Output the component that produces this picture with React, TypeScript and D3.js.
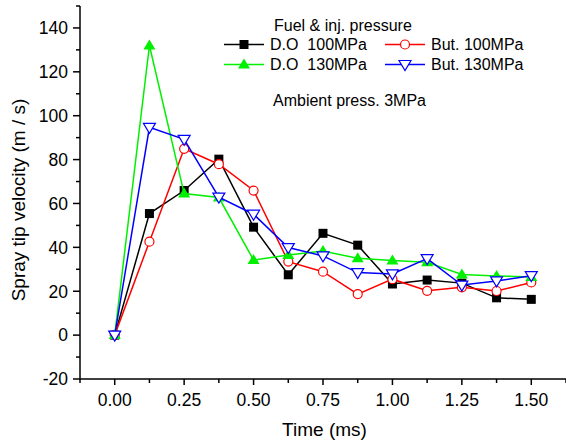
import React from "react";
import * as d3 from "d3";

const times = [0, 0.125, 0.25, 0.375, 0.5, 0.625, 0.75, 0.875, 1.0, 1.125, 1.25, 1.375, 1.5];
const do100 = [0, 55.4, 65.9, 80.2, 49.2, 27.5, 46.4, 41.0, 23.3, 25.1, 23.7, 17.0, 16.3];
const but100 = [0, 42.6, 84.9, 77.9, 65.9, 33.5, 28.9, 18.7, 25.5, 20.2, 21.8, 20.1, 24.0];
const do130 = [0, 132, 64.5, 62.7, 34.2, 36.5, 38.3, 35.0, 34.0, 33.2, 27.6, 27.0, 26.5];
const but130 = [0, 94.7, 89.2, 62.9, 55.1, 39.9, 36.1, 28.5, 27.9, 34.9, 22.8, 24.7, 27.1];

const xMajor = [0, 0.25, 0.5, 0.75, 1.0, 1.25, 1.5];
const xMinor = [-0.125, 0.125, 0.375, 0.625, 0.875, 1.125, 1.375, 1.625];
const yMajor = [-20, 0, 20, 40, 60, 80, 100, 120, 140];
const yMinor = [-10, 10, 30, 50, 70, 90, 110, 130, 150];

const seriesNames = ["D.O  100MPa", "But. 100MPa", "D.O  130MPa", "But. 130MPa"];
const seriesColors = ["#000000", "#ff0000", "#00f000", "#0000ff"];
const seriesShapes = ["square", "circle", "triangle", "invtriangle"];
const seriesData = [do100, but100, do130, but130];

const FONT = "'Liberation Sans', Arial, sans-serif";

function Marker({ shape, x, y, color }: { shape: string; x: number; y: number; color: string }) {
  if (shape === "square") return <rect x={x - 4.5} y={y - 4.5} width={9} height={9} fill={color} />;
  if (shape === "circle") return <circle cx={x} cy={y} r={4.5} fill="white" stroke={color} strokeWidth={1.2} />;
  if (shape === "triangle")
    return <path d={`M${x},${y - 6} L${x + 6},${y + 4} L${x - 6},${y + 4} Z`} fill={color} />;
  return <path d={`M${x - 6},${y - 4} L${x + 6},${y - 4} L${x},${y + 6} Z`} fill="white" stroke={color} strokeWidth={1.2} />;
}

export default function App() {
  const W = 566, H = 444;
  const x = d3.scaleLinear().domain([-0.125, 1.625]).range([80, 566]);
  const y = d3.scaleLinear().domain([-20, 150]).range([379, 6]);
  const line = d3.line<[number, number]>().x((d) => x(d[0])).y((d) => y(d[1]));

  return (
    <svg width={W} height={H} style={{ position: "absolute", left: 0, top: 0, background: "white" }} fontFamily={FONT}>
      <rect width={W} height={H} fill="white" />
      {/* axes */}
      <line x1={80} x2={80} y1={6} y2={379} stroke="black" strokeWidth={1.5} />
      <line x1={80} x2={566} y1={379} y2={379} stroke="black" strokeWidth={1.5} />
      {yMajor.map((v) => (
        <g key={"ym" + v}>
          <line x1={73} x2={80} y1={y(v)} y2={y(v)} stroke="black" strokeWidth={1.5} />
          <text x={68} y={y(v)} dy="0.36em" textAnchor="end" fontSize={17.5}>{v}</text>
        </g>
      ))}
      {yMinor.map((v) => (
        <line key={"yn" + v} x1={76} x2={80} y1={y(v)} y2={y(v)} stroke="black" strokeWidth={1.5} />
      ))}
      {xMajor.map((v) => (
        <g key={"xm" + v}>
          <line x1={x(v)} x2={x(v)} y1={379} y2={385} stroke="black" strokeWidth={1.5} />
          <text x={x(v)} y={406} textAnchor="middle" fontSize={17.5}>{v.toFixed(2)}</text>
        </g>
      ))}
      {xMinor.map((v) => (
        <line key={"xn" + v} x1={x(v)} x2={x(v)} y1={379} y2={383} stroke="black" strokeWidth={1.5} />
      ))}
      <text x={324.5} y={436} textAnchor="middle" fontSize={19}>Time (ms)</text>
      <text transform="translate(25,200) rotate(-90)" textAnchor="middle" fontSize={19}>Spray tip velocity (m / s)</text>

      {/* series */}
      {seriesData.map((data, i) => {
        const pts = times.map((t, j) => [t, data[j]] as [number, number]);
        return (
          <g key={"s" + i}>
            <path d={line(pts) || ""} fill="none" stroke={seriesColors[i]} strokeWidth={1.5} />
            {pts.map((p, j) => (
              <Marker key={j} shape={seriesShapes[i]} x={x(p[0])} y={y(p[1])} color={seriesColors[i]} />
            ))}
          </g>
        );
      })}

      {/* legend */}
      <text x={274} y={31} fontSize={16}>Fuel &amp; inj. pressure</text>
      {seriesNames.map((name, i) => {
        const col = i % 2 === 0 ? 0 : 1;
        const row = Math.floor(i / 2);
        const lx = col === 0 ? 224 : 385;
        const ly = 44.5 + row * 20;
        return (
          <g key={"l" + i}>
            <line x1={lx} x2={lx + 40} y1={ly} y2={ly} stroke={seriesColors[i]} strokeWidth={1.5} />
            <Marker shape={seriesShapes[i]} x={lx + 20} y={ly} color={seriesColors[i]} />
            <text x={lx + 46} y={ly} dy="0.36em" fontSize={16} style={{ whiteSpace: "pre" }}>{name}</text>
          </g>
        );
      })}
      <text x={273} y={106} fontSize={16}>Ambient press. 3MPa</text>
    </svg>
  );
}
